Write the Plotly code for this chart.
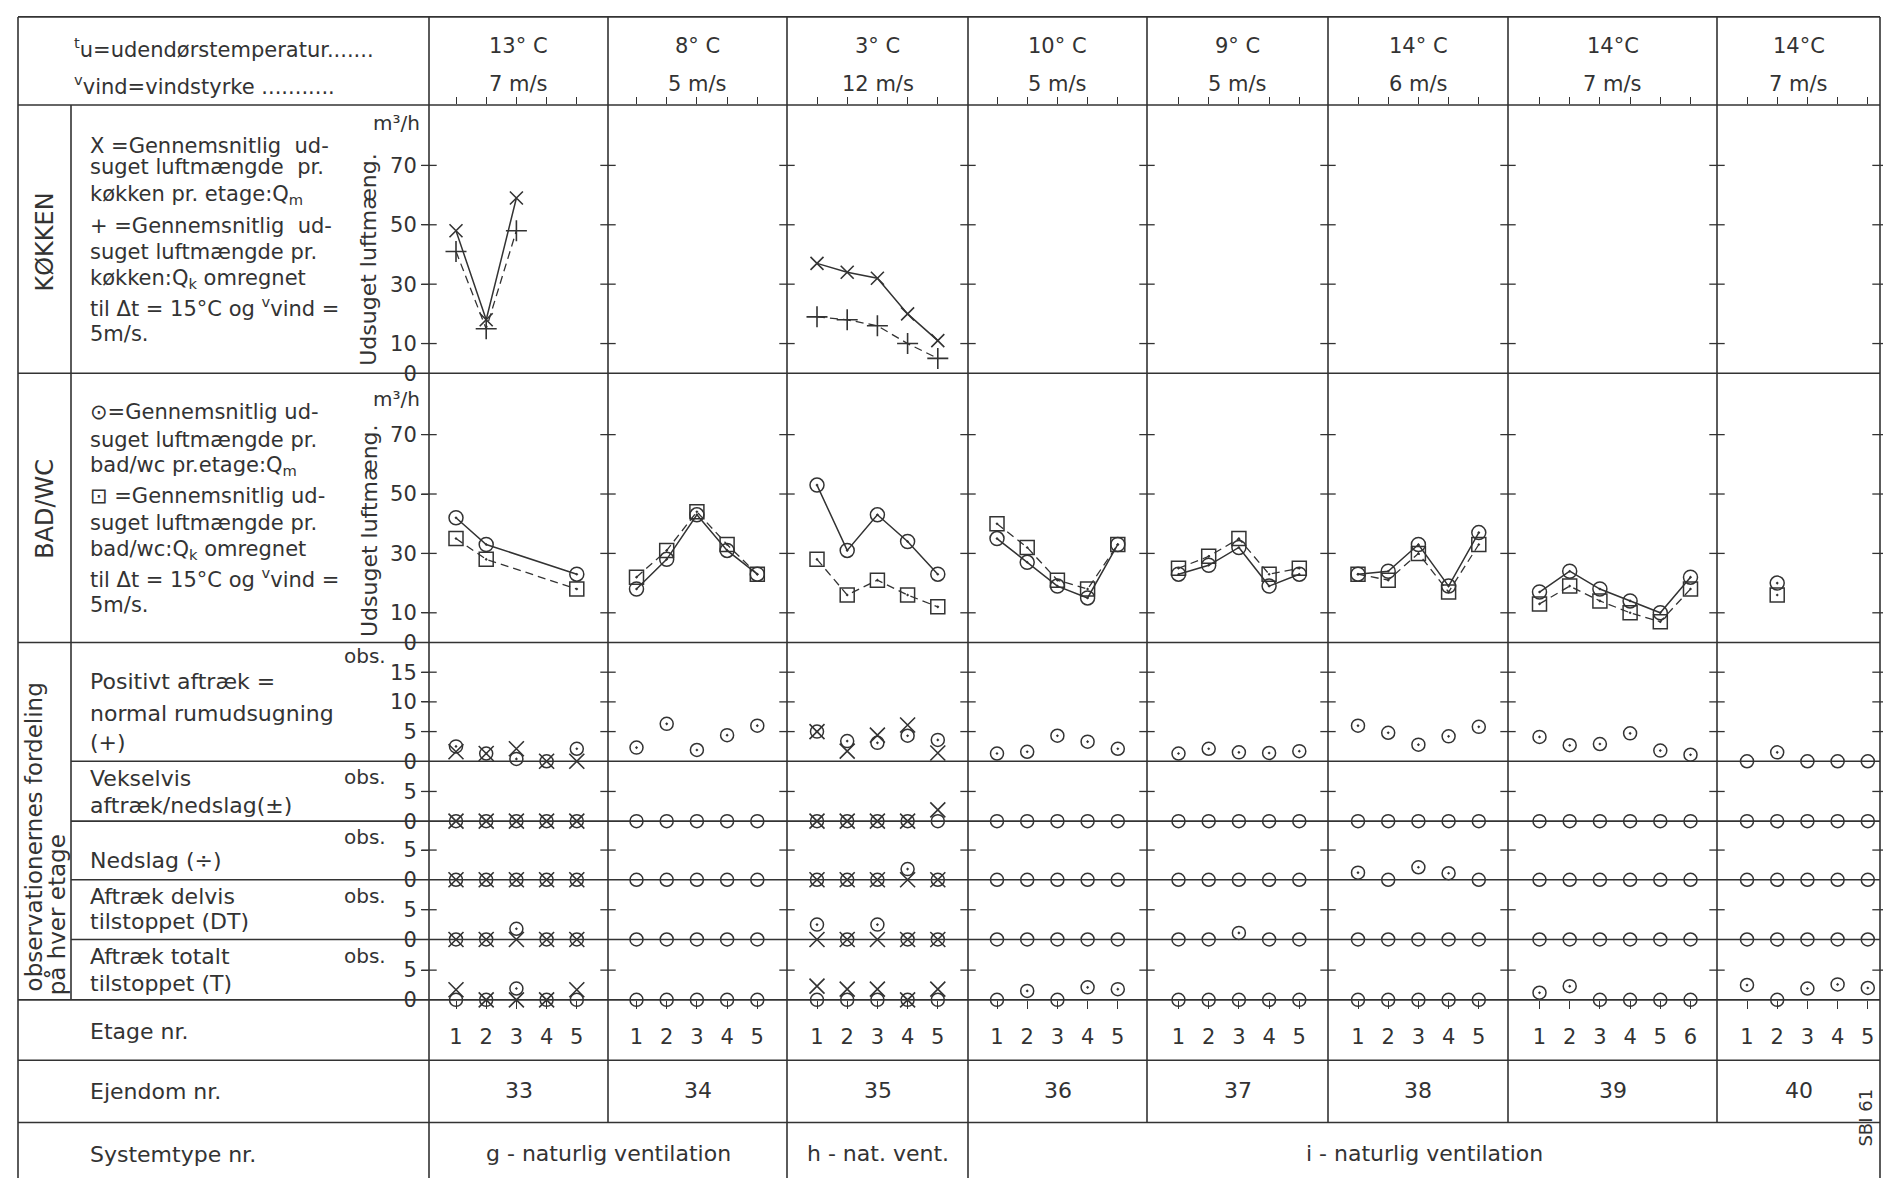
import plotly.graph_objects as go

W, H = 1891, 1182
INK = '#333333'
FONT = 'DejaVu Sans'

# ---------------- data ----------------
ejendom = [33, 34, 35, 36, 37, 38, 39, 40]
temp_c = [13, 8, 3, 10, 9, 14, 14, 14]
temp_fmt = ["{}° C", "{}° C", "{}° C", "{}° C", "{}° C", "{}° C", "{}°C", "{}°C"]
wind_ms = [7, 5, 12, 5, 5, 6, 7, 7]
n_floors = [5, 5, 5, 5, 5, 5, 6, 5]
systemtypes = [("g - naturlig ventilation", 33, 34),
               ("h - nat. vent.", 35, 35),
               ("i - naturlig ventilation", 36, 40)]

# KØKKEN: Qm (X, solid) and Qk (+, dashed), m3/h
kok_floors = {33: [1, 2, 3], 35: [1, 2, 3, 4, 5]}
kok_qm = {33: [48, 18, 59], 35: [37, 34, 32, 20, 11]}
kok_qk = {33: [41, 15, 48], 35: [19, 18, 16, 10, 5]}

# BAD/WC: Qm (circle, solid) and Qk (square, dashed), m3/h
bad_floors = {33: [1, 2, 5], 34: [1, 2, 3, 4, 5], 35: [1, 2, 3, 4, 5],
              36: [1, 2, 3, 4, 5], 37: [1, 2, 3, 4, 5], 38: [1, 2, 3, 4, 5],
              39: [1, 2, 3, 4, 5, 6], 40: [2]}
bad_qm = {33: [42, 33, 23], 34: [18, 28, 43, 31, 23], 35: [53, 31, 43, 34, 23],
          36: [35, 27, 19, 15, 33], 37: [23, 26, 32, 19, 23], 38: [23, 24, 33, 19, 37],
          39: [17, 24, 18, 14, 10, 22], 40: [20]}
bad_qk = {33: [35, 28, 18], 34: [22, 31, 44, 33, 23], 35: [28, 16, 21, 16, 12],
          36: [40, 32, 21, 18, 33], 37: [25, 29, 35, 23, 25], 38: [23, 21, 30, 17, 33],
          39: [13, 19, 14, 10, 7, 18], 40: [16]}

# observations per floor (circle = bad/wc, X = køkken)
pos_bad = {33: [2.5, 1.3, 0.4, 0, 2.1], 34: [2.3, 6.3, 1.9, 4.4, 6.0], 35: [5.0, 3.4, 3.1, 4.3, 3.6],
           36: [1.3, 1.6, 4.3, 3.3, 2.1], 37: [1.3, 2.1, 1.5, 1.4, 1.7], 38: [6.0, 4.8, 2.8, 4.2, 5.8],
           39: [4.1, 2.7, 2.9, 4.7, 1.8, 1.1], 40: [0, 1.5, 0, 0, 0]}
pos_kok = {33: [1.6, 1.3, 2.1, 0, 0], 35: [5.0, 1.7, 4.4, 6.1, 1.4]}
vek_bad = {33: [0, 0, 0, 0, 0], 34: [0, 0, 0, 0, 0], 35: [0, 0, 0, 0, 0], 36: [0, 0, 0, 0, 0],
           37: [0, 0, 0, 0, 0], 38: [0, 0, 0, 0, 0], 39: [0, 0, 0, 0, 0, 0], 40: [0, 0, 0, 0, 0]}
vek_kok = {33: [0, 0, 0, 0, 0], 35: [0, 0, 0, 0, 1.9]}
ned_bad = {33: [0, 0, 0, 0, 0], 34: [0, 0, 0, 0, 0], 35: [0, 0, 0, 1.8, 0], 36: [0, 0, 0, 0, 0],
           37: [0, 0, 0, 0, 0], 38: [1.2, 0, 2.1, 1.1, 0], 39: [0, 0, 0, 0, 0, 0], 40: [0, 0, 0, 0, 0]}
ned_kok = {33: [0, 0, 0, 0, 0], 35: [0, 0, 0, 0, 0]}
dt_bad = {33: [0, 0, 1.8, 0, 0], 34: [0, 0, 0, 0, 0], 35: [2.5, 0, 2.5, 0, 0], 36: [0, 0, 0, 0, 0],
          37: [0, 0, 1.1, 0, 0], 38: [0, 0, 0, 0, 0], 39: [0, 0, 0, 0, 0, 0], 40: [0, 0, 0, 0, 0]}
dt_kok = {33: [0, 0, 0, 0, 0], 35: [0, 0, 0, 0, 0]}
tot_bad = {33: [0, 0, 1.9, 0, 0], 34: [0, 0, 0, 0, 0], 35: [0, 0, 0, 0, 0], 36: [0, 1.5, 0, 2.1, 1.8],
           37: [0, 0, 0, 0, 0], 38: [0, 0, 0, 0, 0], 39: [1.2, 2.3, 0, 0, 0, 0], 40: [2.5, 0, 1.9, 2.6, 2.0]}
tot_kok = {33: [1.7, 0, 0, 0, 1.7], 35: [2.3, 1.8, 1.8, 0, 1.8]}

m3_ticks = [0, 10, 30, 50, 70]
pos_ticks = [0, 5, 10, 15]
obs_ticks = [0, 5]

# ---------------- layout geometry (pixels) ----------------
GX = [421, 600, 779, 960, 1139, 1320, 1500, 1709, 1872]
FOFF = [27, 28.5, 30, 29, 31.5, 30, 31.5, 30]
S = 30.2
ROWS = [  # key, top, bottom, px per unit, ticks
    ("kok", 98, 369, 3.0, m3_ticks),
    ("bad", 369, 641, 3.0, m3_ticks),
    ("pos", 641, 761, 6.0, pos_ticks),
    ("vek", 761, 821.5, 6.0, obs_ticks),
    ("ned", 821.5, 880.7, 6.0, obs_ticks),
    ("dt", 880.7, 941, 6.0, obs_ticks),
    ("tot", 941, 1002, 6.0, obs_ticks),
]


def px(x):
    return x / W


def py(y):
    return 1 - y / H


def xr(g):
    r0 = 1 - FOFF[g] / S
    return [r0, r0 + (GX[g + 1] - GX[g]) / S]


def xname(g, bottom=False):
    k = g + 1 + (8 if bottom else 0)
    return 'x' if k == 1 else f'x{k}'


def yname(i):
    return 'y' if i == 0 else f'y{i + 1}'


fig = go.Figure()
LW = 1.5

# ---------------- KØKKEN ----------------
for e in kok_floors:
    g = ejendom.index(e)
    fig.add_trace(go.Scatter(x=kok_floors[e], y=kok_qm[e], xaxis=xname(g), yaxis='y',
                             mode='lines+markers', cliponaxis=False,
                             line=dict(color=INK, width=LW),
                             marker=dict(symbol='x-thin-open', size=13, color=INK,
                                         line=dict(color=INK, width=1.6))))
    fig.add_trace(go.Scatter(x=kok_floors[e], y=kok_qk[e], xaxis=xname(g), yaxis='y',
                             mode='lines+markers', cliponaxis=False,
                             line=dict(color=INK, width=1.3, dash='8px,5px'),
                             marker=dict(symbol='cross-thin-open', size=15, color=INK,
                                         line=dict(color=INK, width=1.6))))

# ---------------- BAD/WC ----------------
for e in bad_floors:
    g = ejendom.index(e)
    fig.add_trace(go.Scatter(x=bad_floors[e], y=bad_qk[e], xaxis=xname(g), yaxis='y2',
                             mode='lines+markers', cliponaxis=False,
                             line=dict(color=INK, width=1.3, dash='8px,5px'),
                             marker=dict(symbol='square-open-dot', size=14, color=INK,
                                         line=dict(color=INK, width=1.5))))
    fig.add_trace(go.Scatter(x=bad_floors[e], y=bad_qm[e], xaxis=xname(g), yaxis='y2',
                             mode='lines+markers', cliponaxis=False,
                             line=dict(color=INK, width=LW),
                             marker=dict(symbol='circle-open-dot', size=14, color=INK,
                                         line=dict(color=INK, width=1.5))))

# ---------------- observations ----------------
obs_series = {"pos": (pos_bad, pos_kok), "vek": (vek_bad, vek_kok), "ned": (ned_bad, ned_kok),
              "dt": (dt_bad, dt_kok), "tot": (tot_bad, tot_kok)}
for i, (key, top, bot, ppu, ticks) in enumerate(ROWS):
    if key not in obs_series:
        continue
    sb, sk = obs_series[key]
    for e in ejendom:
        g = ejendom.index(e)
        xa = xname(g, bottom=(key == "tot"))
        fl = list(range(1, n_floors[g] + 1))
        vals = sb[e]
        fig.add_trace(go.Scatter(x=fl, y=vals, xaxis=xa, yaxis=yname(i), mode='markers',
                                 cliponaxis=False,
                                 marker=dict(symbol=['circle-open-dot' if v > 0 else 'circle-open' for v in vals],
                                             size=13, color=INK, line=dict(color=INK, width=1.5))))
        if e in sk:
            fig.add_trace(go.Scatter(x=fl, y=sk[e], xaxis=xa, yaxis=yname(i), mode='markers',
                                     cliponaxis=False,
                                     marker=dict(symbol='x-thin-open', size=15, color=INK,
                                                 line=dict(color=INK, width=1.6))))

# ---------------- tick crosses on the group boundaries ----------------
for i, (key, top, bot, ppu, ticks) in enumerate(ROWS):
    tv = [t for t in ticks if t > 0]
    for b in range(9):
        g = min(b, 7)
        xv = xr(g)[0] if b < 8 else xr(7)[1]
        fig.add_trace(go.Scatter(x=[xv] * len(tv), y=tv, xaxis=xname(g), yaxis=yname(i),
                                 mode='markers', cliponaxis=False, hoverinfo='skip',
                                 marker=dict(symbol='line-ew', size=11, color=INK,
                                             line=dict(color=INK, width=1.3))))

# ---------------- axes ----------------
layout = dict(width=W, height=H, margin=dict(l=0, r=0, t=0, b=0),
              paper_bgcolor='white', plot_bgcolor='rgba(0,0,0,0)', showlegend=False,
              font=dict(family=FONT, color=INK))
for g in range(8):
    fl = list(range(1, n_floors[g] + 1))
    common = dict(domain=[px(GX[g]), px(GX[g + 1])], range=xr(g), showgrid=False,
                  zeroline=False, showline=False, fixedrange=True, tickvals=fl,
                  tickcolor=INK, tickwidth=1.3)
    layout['xaxis' if g == 0 else f'xaxis{g + 1}'] = dict(
        common, anchor='y', side='top', ticks='outside', ticklen=7, showticklabels=False)
    layout[f'xaxis{g + 9}'] = dict(
        common, anchor='y7', side='bottom', ticks='outside', ticklen=8,
        ticktext=[str(f) for f in fl], showticklabels=True,
        tickfont=dict(family=FONT, size=21, color=INK), ticklabelstandoff=10)

for i, (key, top, bot, ppu, ticks) in enumerate(ROWS):
    layout['yaxis' if i == 0 else f'yaxis{i + 1}'] = dict(
        domain=[py(bot), py(top)], range=[0, (bot - top) / ppu], anchor='x', side='left',
        ticks='outside', ticklen=7, tickwidth=1.3, tickcolor=INK, tickvals=ticks,
        tickfont=dict(family=FONT, size=21, color=INK), showgrid=False, zeroline=False,
        showline=False, fixedrange=True)

# ---------------- table lines ----------------
shapes = []


def hline(y, x0, x1):
    shapes.append(dict(type='line', xref='paper', yref='paper', x0=px(x0), x1=px(x1),
                       y0=py(y), y1=py(y), line=dict(color=INK, width=1.6)))


def vline(x, y0, y1):
    shapes.append(dict(type='line', xref='paper', yref='paper', x0=px(x), x1=px(x),
                       y0=py(y0), y1=py(y1), line=dict(color=INK, width=1.6)))


for y in [9, 98, 369, 641, 1002, 1063, 1126]:
    hline(y, 10, GX[-1])
for y in [761, 821.5, 880.7, 941]:
    hline(y, 63, GX[-1])
vline(10, 9, 1182)
vline(63, 98, 1002)
vline(GX[0], 9, 1182)
vline(GX[-1], 9, 1182)
for x in GX[1:-1]:
    vline(x, 9, 1126)
for name, e0, e1 in systemtypes[1:]:
    vline(GX[ejendom.index(e0)], 1126, 1182)
layout['shapes'] = shapes

# ---------------- texts ----------------
anns = []


def ann(text, x, y, size=22, xa='left', ya='middle', angle=0):
    anns.append(dict(text=text, x=px(x), y=py(y), xref='paper', yref='paper', showarrow=False,
                     xanchor=xa, yanchor=ya, textangle=angle,
                     font=dict(family=FONT, size=size, color=INK)))


ann("<sup>t</sup>u=udendørstemperatur.......", 64, 40, 21)
ann("<sup>v</sup>vind=vindstyrke ...........", 64, 78, 21)
for g in range(8):
    cx = (GX[g] + GX[g + 1]) / 2
    ann(temp_fmt[g].format(temp_c[g]), cx, 38, 21, 'center')
    ann(f"{wind_ms[g]} m/s", cx, 77, 21, 'center')
    ann(str(ejendom[g]), cx, 1094, 22, 'center')
for name, e0, e1 in systemtypes:
    cx = (GX[ejendom.index(e0)] + GX[ejendom.index(e1) + 1]) / 2
    ann(name, cx, 1157, 22, 'center')

ann("KØKKEN", 37, 237, 24, 'center', 'middle', -90)
ann("BAD/WC", 37, 506, 24, 'center', 'middle', -90)
ann("observationernes fordeling", 26, 996, 23, 'center', 'bottom', -90)
ann("på hver etage", 48, 1000, 23, 'center', 'bottom', -90)

kok_txt = [("X =Gennemsnitlig  ud-", 139), ("suget luftmængde  pr.", 161),
           ("køkken pr. etage:Q<sub>m</sub>", 189), ("+ =Gennemsnitlig  ud-", 220),
           ("suget luftmængde pr.", 246), ("køkken:Q<sub>k</sub> omregnet", 274),
           ("til Δt = 15°C og <sup>v</sup>vind =", 302), ("5m/s.", 329)]
bad_txt = [("⊙=Gennemsnitlig ud-", 408), ("suget luftmængde pr.", 436),
           ("bad/wc pr.etage:Q<sub>m</sub>", 463), ("⊡ =Gennemsnitlig ud-", 493),
           ("suget luftmængde pr.", 520), ("bad/wc:Q<sub>k</sub> omregnet", 548),
           ("til Δt = 15°C og <sup>v</sup>vind =", 576), ("5m/s.", 603)]
for t, y in kok_txt + bad_txt:
    ann(t, 80, y, 21)

ann("Udsuget luftmæng.", 361, 364, 22, 'center', 'bottom', -90)
ann("Udsuget luftmæng.", 361, 638, 22, 'center', 'bottom', -90)
ann("m³/h", 388, 116, 20, 'center')
ann("m³/h", 388, 395, 20, 'center')

obs_txt = [("Positivt aftræk =", 680), ("normal rumudsugning", 713), ("(+)", 742),
           ("Vekselvis", 778), ("aftræk/nedslag(±)", 806), ("Nedslag (÷)", 861),
           ("Aftræk delvis", 898), ("tilstoppet (DT)", 923),
           ("Aftræk totalt", 958), ("tilstoppet (T)", 985)]
for t, y in obs_txt:
    ann(t, 80, y, 22)
for y in [655, 777, 837, 897, 958]:
    ann("obs.", 380, y, 20, 'right')

ann("Etage nr.", 80, 1034, 22)
ann("Ejendom nr.", 80, 1095, 22)
ann("Systemtype nr.", 80, 1158, 22)
ann("SBI 61", 1858, 1121, 18, 'center', 'middle', -90)

layout['annotations'] = anns
fig.update_layout(**layout)
fig.write_html("out.html", config={'displayModeBar': False})
